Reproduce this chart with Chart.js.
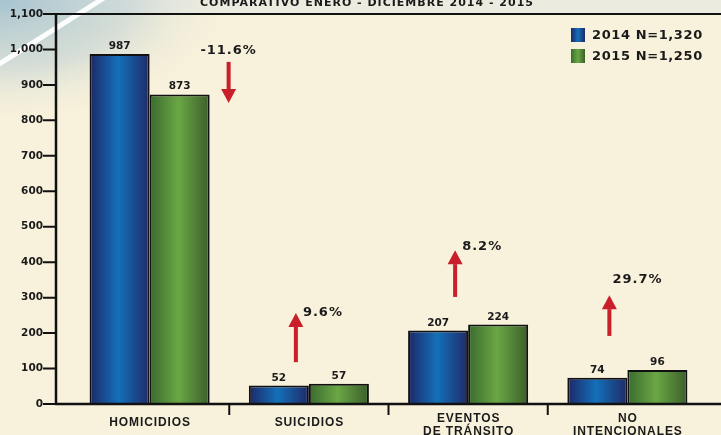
<!DOCTYPE html>
<html>
<head>
<meta charset="utf-8">
<script src="https://cdn.jsdelivr.net/npm/chart.js@4/dist/chart.umd.min.js"></script>
<style>
  html, body { margin: 0; padding: 0; background: #f8f1db; }
  #chart { display: block; }
</style>
</head>
<body>
<canvas id="chart" width="721" height="435"></canvas>
<script>
// Data
const categories = ['HOMICIDIOS', 'SUICIDIOS', ['EVENTOS', 'DE TRÁNSITO'], ['NO', 'INTENCIONALES']];
const values2014 = [987, 52, 207, 74];
const values2015 = [873, 57, 224, 96];
const seriesLabels = ['2014 N=1,320', '2015 N=1,250'];
const changeLabels = ['-11.6%', '9.6%', '8.2%', '29.7%'];
const changeUp = [false, true, true, true];
const titleText = 'COMPARATIVO ENERO - DICIEMBRE 2014 - 2015';

const Y_MAX = 1100;
const Y_STEP = 100;
const GROUP_PCT = 0.754;
const INK = '#1a1a1a';
const RED = '#c81f2b';

// gradient stops for the two series (dark edge -> light middle -> dark edge)
const seriesStops = [
  ['#1e2766', '#1470ba', '#1f2a66'],
  ['#3a6a2f', '#6aa744', '#3b5e2b'],
];

// where the change arrows sit: x offset from category centre (px),
// arrow tail / tip and label in axis units
const arrowLayout = [
  {dx: 79, tail: 965, tip: 849, textY: 998, textDx: 0, align: 'center'},
  {dx: -13, tail: 118, tip: 257, textY: 259, textDx: 7, align: 'left'},
  {dx: -13, tail: 302, tip: 434, textY: 443, textDx: 7, align: 'left'},
  {dx: -18, tail: 192, tip: 307, textY: 350, textDx: 3, align: 'left'},
];

function barFill(ctx) {
  const chart = ctx.chart;
  const xs = chart.scales.x;
  const stops = seriesStops[ctx.datasetIndex];
  if (!xs || ctx.dataIndex === undefined) return stops[1];
  const cw = (xs.right - xs.left) / categories.length;
  const bw = cw * GROUP_PCT / 2;
  const center = xs.getPixelForValue(ctx.dataIndex);
  if (!isFinite(center) || !isFinite(bw) || bw <= 0) return stops[1];
  const left = ctx.datasetIndex === 0 ? center - bw : center;
  const g = chart.ctx.createLinearGradient(left, 0, left + bw, 0);
  g.addColorStop(0, stops[0]);
  g.addColorStop(0.48, stops[1]);
  g.addColorStop(1, stops[2]);
  return g;
}

const decor = {
  id: 'decor',
  beforeDraw(chart) {
    const c = chart.ctx;
    const W = chart.width, H = chart.height;
    c.save();
    c.fillStyle = '#f8f1db';
    c.fillRect(0, 0, W, H);
    // light strip over the plot
    c.fillStyle = '#ecebe0';
    c.fillRect(0, 0, W, 13);
    // bluish glow in the top-left corner
    c.save();
    c.scale(1.9, 1);
    const rg = c.createRadialGradient(0, 0, 0, 0, 0, 125);
    rg.addColorStop(0, 'rgba(160,192,206,0.9)');
    rg.addColorStop(0.55, 'rgba(180,203,210,0.5)');
    rg.addColorStop(1, 'rgba(248,241,219,0)');
    c.fillStyle = rg;
    c.fillRect(0, 0, 200, 140);
    c.restore();
    // white diagonal stripe
    c.strokeStyle = 'rgba(255,255,255,0.95)';
    c.lineWidth = 5;
    c.beginPath();
    c.moveTo(-4, 66);
    c.lineTo(104, -2);
    c.stroke();
    c.restore();
  },
  afterDatasetsDraw(chart) {
    const c = chart.ctx;
    const xs = chart.scales.x, ys = chart.scales.y;
    const area = chart.chartArea;
    const axisX = 56;
    const y0 = ys.getPixelForValue(0);
    const yTop = ys.getPixelForValue(Y_MAX);
    c.save();
    c.strokeStyle = '#111';
    c.lineCap = 'butt';
    // frame lines
    c.lineWidth = 2.5;
    c.beginPath();
    c.moveTo(axisX, yTop);
    c.lineTo(axisX, y0);
    c.moveTo(axisX - 1, y0);
    c.lineTo(chart.width, y0);
    c.stroke();
    c.lineWidth = 2;
    c.beginPath();
    c.moveTo(axisX - 1, yTop);
    c.lineTo(chart.width, yTop);
    c.stroke();
    // y tick marks
    c.lineWidth = 2;
    c.beginPath();
    for (let v = 0; v <= Y_MAX; v += Y_STEP) {
      const y = ys.getPixelForValue(v);
      c.moveTo(43, y);
      c.lineTo(axisX, y);
    }
    // category separators
    const cw = (xs.right - xs.left) / categories.length;
    for (let i = 1; i < categories.length; i++) {
      const x = area.left + i * cw;
      c.moveTo(x, y0);
      c.lineTo(x, y0 + 11);
    }
    c.stroke();

    // category labels
    c.fillStyle = INK;
    c.font = 'bold 12px "Liberation Sans", Arial, sans-serif';
    c.letterSpacing = '0.9px';
    c.textAlign = 'center';
    c.textBaseline = 'middle';
    categories.forEach((lab, i) => {
      const lines = Array.isArray(lab) ? lab : [lab];
      const x = xs.getPixelForValue(i) + 0.5;
      const first = lines.length > 1 ? y0 + 15 : y0 + 18.5;
      lines.forEach((t, k) => c.fillText(t, x, first + k * 13));
    });

    // value labels above bars
    c.font = 'bold 10.5px "DejaVu Sans"';
    c.letterSpacing = '0px';
    c.textBaseline = 'alphabetic';
    chart.data.datasets.forEach((ds, di) => {
      const meta = chart.getDatasetMeta(di);
      meta.data.forEach((bar, i) => {
        c.fillText(String(ds.data[i]), bar.x, bar.y - 5);
      });
    });

    // change arrows + labels
    c.font = 'bold 13px "DejaVu Sans"';
    c.letterSpacing = '1px';
    c.textBaseline = 'middle';
    changeLabels.forEach((lab, i) => {
      const L = arrowLayout[i];
      const cx = xs.getPixelForValue(i) + L.dx;
      const tail = ys.getPixelForValue(L.tail);
      const tip = ys.getPixelForValue(L.tip);
      const dir = changeUp[i] ? -1 : 1;
      const headLen = 14, headHalf = 7.5;
      const base = tip - dir * headLen;
      c.fillStyle = RED;
      c.fillRect(cx - 2, Math.min(tail, base), 4, Math.abs(base - tail));
      c.beginPath();
      c.moveTo(cx - headHalf, base);
      c.lineTo(cx + headHalf, base);
      c.lineTo(cx, tip);
      c.closePath();
      c.fill();
      c.fillStyle = INK;
      c.textAlign = L.align;
      c.fillText(lab, cx + L.textDx, ys.getPixelForValue(L.textY));
    });

    // legend
    c.font = 'bold 13px "DejaVu Sans"';
    c.letterSpacing = '0.6px';
    c.textAlign = 'left';
    seriesLabels.forEach((lab, i) => {
      const top = 28 + i * 21;
      const g = c.createLinearGradient(571, 0, 585, 0);
      const s = seriesStops[i];
      g.addColorStop(0, s[0]);
      g.addColorStop(0.5, s[1]);
      g.addColorStop(1, s[2]);
      c.fillStyle = g;
      c.fillRect(571, top, 14, 14);
      c.fillStyle = INK;
      c.fillText(lab, 592, top + 7.5);
    });

    // title (cut by the top edge in the reference)
    c.font = 'bold 11px "DejaVu Sans"';
    c.letterSpacing = '1px';
    c.textAlign = 'center';
    c.textBaseline = 'alphabetic';
    c.fillText(titleText, 367, 5.5);
    c.restore();
  },
};

const barStyle = {
  backgroundColor: barFill,
  borderColor: '#111',
  borderWidth: 2,
  borderSkipped: 'bottom',
  categoryPercentage: GROUP_PCT,
  barPercentage: 1.0,
};

new Chart(document.getElementById('chart'), {
  type: 'bar',
  data: {
    labels: categories,
    datasets: [
      {label: seriesLabels[0], data: values2014, ...barStyle},
      {label: seriesLabels[1], data: values2015, ...barStyle},
    ],
  },
  options: {
    responsive: false,
    animation: false,
    layout: {autoPadding: false, padding: {top: 14, right: 14, left: 0, bottom: 0}},
    plugins: {
      colors: {enabled: false},
      legend: {display: false},
      title: {display: false},
      tooltip: {enabled: false},
    },
    scales: {
      x: {
        grid: {display: false, tickLength: 0},
        border: {display: false},
        afterFit(scale) {
          scale.height = 31;
          scale.paddingLeft = 0;
          scale.paddingRight = 0;
        },
        ticks: {display: false},
      },
      y: {
        min: 0,
        max: Y_MAX,
        grid: {display: false, tickLength: 0},
        border: {display: false},
        afterFit(scale) {
          scale.width = 70;
          scale.paddingTop = 0;
          scale.paddingBottom = 0;
        },
        ticks: {
          stepSize: Y_STEP,
          color: INK,
          padding: 27,
          font: {family: '"DejaVu Sans"', weight: 'bold', size: 10.5},
          callback: (v) => v.toLocaleString('en-US'),
        },
      },
    },
  },
  plugins: [decor],
});
</script>
</body>
</html>
